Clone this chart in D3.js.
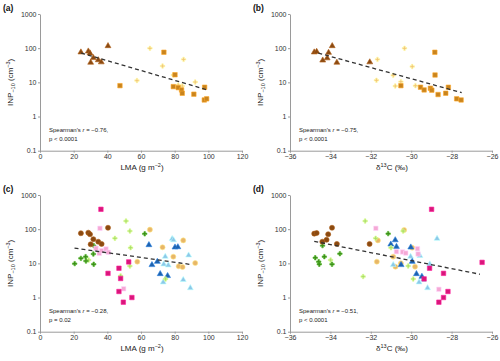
<!DOCTYPE html>
<html><head><meta charset="utf-8">
<script src="https://cdn.jsdelivr.net/npm/d3@7"></script>
<style>body{margin:0;background:#fff} svg{display:block;font-family:"Liberation Sans",Arial,sans-serif}</style>
</head><body><svg id="c" width="500" height="361"></svg>
<script>
// ---------- data ----------
const yTicks = [0.1, 1, 10, 100, 1000];
const yTickLabels = ["0.1", "1", "10", "100", "1000"];
const lmaTicks = [0, 20, 40, 60, 80, 100, 120];
const lmaTickLabels = ["0", "20", "40", "60", "80", "100", "120"];
const d13Ticks = [-36, -34, -32, -30, -28, -26];
const d13TickLabels = ["\u221236", "\u221234", "\u221232", "\u221230", "\u221228", "\u221226"];
const panelLetters = ["(a)", "(b)", "(c)", "(d)"];
const statsR = ["\u22120.76,", "\u22120.75,", "\u22120.28,", "\u22120.51,"];
const statsP = ["p < 0.0001", "p < 0.0001", "p = 0.02", "p < 0.0001"];

// Panel (a): LMA vs INP
const aTriangles = [[24.3,76],[28.7,81],[29.7,71],[31.7,52],[30.1,38],[34.6,45],[36.4,39],[40.4,116]];
const aSquares = [[47.5,8.0],[73.6,76],[80.2,16.7],[79.2,7.5],[82.1,7.0],[84.1,6.0],[84.5,4.8],[91.4,4.5],[97.8,7.2],[97.6,3.05],[99,3.3]];
const aStars = [[65.3,99],[57.6,11.3],[72.8,30],[85.3,47],[79.2,16.4],[92.2,10.2],[84.5,7.8],[82.1,8.3]];
const aTrend = [[24.5,72],[99.5,6]];

// Panel (b): d13C vs INP
const bTriangles = [[-34.80,76],[-34.68,79],[-34.38,44],[-34.16,51],[-34.09,74],[-33.91,116],[-33.68,38],[-32.05,39]];
const bSquares = [[-28.83,76],[-28.82,16.4],[-30.51,8.0],[-29.54,7.2],[-29.36,6.0],[-29.05,6.7],[-28.98,5.9],[-28.67,4.4],[-28.29,4.8],[-28.16,7.2],[-27.75,3.3],[-27.53,3.05]];
const bStars = [[-31.67,47],[-31.72,11.5],[-30.33,99],[-29.95,29],[-30.89,16],[-30.51,10.5],[-30.79,7.8],[-29.79,8]];
const bTrend = [[-34.6,72],[-27.5,5.0]];

// Panel (c): LMA vs INP, by group
const cBrown = [[24.3,76],[28.7,79],[29.7,71],[40.4,110],[31.7,51],[34.6,43],[36.6,37],[30.1,36]];
const cDarkGreen = [[20.6,9.8],[24.3,14],[27.1,15.7],[27.3,11.7],[31.7,18.8],[31.9,9.4],[31.9,33],[62.2,73]];
const cLightGreen = [[51.1,173],[53.4,88],[44.5,54],[53.8,28.7],[28.9,12.5],[47.9,4.3],[53.4,8.3],[74.6,3.5]];
const cMagenta = [[36.2,382],[52.7,11],[40.4,5.1],[46.9,7.2],[47.9,3.6],[46.9,1.5],[54.6,1.0],[49.5,0.73]];
const cPink = [[35.6,106],[33.3,27.6],[35.2,19.7],[36.6,23.4],[39.2,26.3],[40.6,21],[49.7,1.8]];
const cDarkBlue = [[64.7,34.5],[69.7,11.2],[66.5,9.0],[80.2,29.5],[81.9,30],[71.4,4.9],[75.8,4.3]];
const cLightBlue = [[78.5,52],[79.3,48],[74.4,15.7],[88.3,17.2],[73.5,9.4],[76.2,8.8],[73.2,2.8],[85.1,3.3],[89.3,1.9]];
const cTan = [[65.3,97],[72.8,29.5],[85.1,47],[79.2,15.7],[57.8,11.2],[82.4,8.2],[84.7,7.8],[92.2,10.2]];
const cTrend = [[20.5,28],[90,9.2]];

// Panel (d): d13C vs INP, by group
const dBrown = [[-34.80,74],[-34.68,77],[-33.92,110],[-34.11,71],[-34.19,49],[-34.40,43],[-33.68,37],[-32.06,37]];
const dDarkGreen = [[-34.39,33],[-34.75,14.6],[-34.58,11.2],[-34.55,9.4],[-34.30,15.7],[-33.92,9.4],[-33.53,19.2],[-31.14,74]];
const dLightGreen = [[-32.28,173],[-31.76,54],[-32.38,4.1],[-33.99,12.5],[-30.40,88],[-30.15,8.4],[-29.90,3.5],[-31.0,28.7]];
const dMagenta = [[-28.99,382],[-26.49,10.7],[-29.09,7.2],[-28.40,5.1],[-29.36,3.5],[-28.18,1.5],[-28.40,1.0],[-28.63,0.73]];
const dPink = [[-31.75,106],[-29.69,26.9],[-30.73,22],[-30.43,21.5],[-30.27,20],[-29.66,18.8],[-28.63,1.74]];
const dDarkBlue = [[-30.79,48],[-30.73,30.7],[-31.01,36],[-30.02,29.5],[-29.95,11.2],[-30.50,9.0],[-29.74,4.9],[-29.47,4.1]];
const dLightBlue = [[-28.72,53],[-30.03,15.7],[-29.57,16.7],[-30.89,9.0],[-29.08,9.4],[-29.61,2.8],[-29.19,1.9],[-29.40,3.3]];
const dTan = [[-30.35,95],[-30.89,15.7],[-30.78,8.0],[-30.51,10],[-29.81,8.0],[-29.95,28.7],[-31.65,47],[-31.70,11.2]];
const dTrend = [[-34.8,44],[-26.6,4.8]];

// ---------- styles ----------
const col = {
  brown: "#8a4a12", orange: "#c8841f", star: "#f2c47c", tan: "#e8b668",
  dgreen: "#3d8c1c", lgreen: "#a9dc6c", magenta: "#d8177a", pink: "#f5a9d4",
  dblue: "#1e62ae", lblue: "#8ec7e8"
};
const TRI = d3.symbolTriangle, SQ = d3.symbolSquare, CIR = d3.symbolCircle, CR = d3.symbolCross;

const panels = [
  {left:40, right:242, top:14, bottom:150.7, xDomain:[0,120], xTicks:lmaTicks, xLabels:lmaTickLabels, xTitle:"lma",
   series:[{d:aStars,t:CR,c:col.star},{d:aSquares,t:SQ,c:col.orange},{d:aTriangles,t:TRI,c:col.brown}], trend:aTrend},
  {left:290, right:492, top:14, bottom:150.7, xDomain:[-36,-26], xTicks:d13Ticks, xLabels:d13TickLabels, xTitle:"d13",
   series:[{d:bStars,t:CR,c:col.star},{d:bSquares,t:SQ,c:col.orange},{d:bTriangles,t:TRI,c:col.brown}], trend:bTrend},
  {left:40, right:242, top:195, bottom:331.7, xDomain:[0,120], xTicks:lmaTicks, xLabels:lmaTickLabels, xTitle:"lma",
   series:[{d:cTan,t:CIR,c:col.tan},{d:cLightBlue,t:TRI,c:col.lblue},{d:cDarkBlue,t:TRI,c:col.dblue},
           {d:cLightGreen,t:CR,c:col.lgreen},{d:cDarkGreen,t:CR,c:col.dgreen},{d:cPink,t:SQ,c:col.pink},
           {d:cMagenta,t:SQ,c:col.magenta},{d:cBrown,t:CIR,c:col.brown}], trend:cTrend},
  {left:290, right:492, top:195, bottom:331.7, xDomain:[-36,-26], xTicks:d13Ticks, xLabels:d13TickLabels, xTitle:"d13",
   series:[{d:dTan,t:CIR,c:col.tan},{d:dLightBlue,t:TRI,c:col.lblue},{d:dDarkBlue,t:TRI,c:col.dblue},
           {d:dLightGreen,t:CR,c:col.lgreen},{d:dDarkGreen,t:CR,c:col.dgreen},{d:dPink,t:SQ,c:col.pink},
           {d:dMagenta,t:SQ,c:col.magenta},{d:dBrown,t:CIR,c:col.brown}], trend:dTrend}
];
const sizes = new Map([[TRI,15],[SQ,20],[CIR,20],[CR,11]]);

const svg = d3.select("#c");

panels.forEach((p, i) => {
  const x = d3.scaleLinear().domain(p.xDomain).range([p.left, p.right]);
  const y = d3.scaleLog().domain([0.1, 1000]).range([p.bottom, p.top]);
  const g = svg.append("g");

  const xa = g.append("g").attr("transform", `translate(0,${p.bottom})`)
    .call(d3.axisBottom(x).tickValues(p.xTicks).tickFormat((d, k) => p.xLabels[k]).tickSize(2).tickSizeOuter(0).tickPadding(1));
  const ya = g.append("g").attr("transform", `translate(${p.left},0)`)
    .call(d3.axisLeft(y).tickValues(yTicks).tickFormat((d, k) => yTickLabels[k]).tickSize(2).tickSizeOuter(0).tickPadding(1.5));
  [xa, ya].forEach(a => {
    a.select(".domain").attr("stroke", "#9a9a9a").attr("stroke-width", 1);
    a.selectAll(".tick line").attr("stroke", "#9a9a9a");
    a.selectAll(".tick text").attr("font-size", 7).attr("fill", "#333").attr("font-family", "Liberation Sans, Arial, sans-serif");
  });

  // markers
  p.series.forEach(s => {
    g.append("g").selectAll("path").data(s.d).join("path")
      .attr("transform", d => `translate(${x(d[0])},${y(d[1])})`)
      .attr("d", d3.symbol().type(s.t).size(sizes.get(s.t)))
      .attr("fill", s.c)
      .attr("stroke", d3.color(s.c).brighter(0.7))
      .attr("stroke-opacity", 0.6)
      .attr("stroke-width", 1);
  });

  // trend line
  g.append("path").datum(p.trend)
    .attr("d", d3.line().x(d => x(d[0])).y(d => y(d[1])))
    .attr("fill", "none").attr("stroke", "#333").attr("stroke-width", 1.3).attr("stroke-dasharray", "4,3");

  // panel letter
  g.append("text").attr("x", p.left - 37).attr("y", p.top - 3.5).attr("font-size", 8.5).attr("font-weight", "bold")
    .attr("fill", "#111").text(panelLetters[i]);

  // stats
  const st = g.append("text").attr("x", p.left + 9).attr("y", p.bottom - 18.5).attr("font-size", 6).attr("fill", "#222");
  st.append("tspan").text("Spearman's ");
  st.append("tspan").attr("font-style", "italic").text("r");
  st.append("tspan").text(" = " + statsR[i]);
  g.append("text").attr("x", p.left + 9).attr("y", p.bottom - 9.5).attr("font-size", 6).attr("fill", "#222").text(statsP[i]);

  // x title
  const xt = g.append("text").attr("x", (p.left + p.right) / 2 + 1).attr("y", p.bottom + 19).attr("text-anchor", "middle")
    .attr("font-size", 8).attr("fill", "#222");
  if (p.xTitle === "lma") {
    xt.append("tspan").text("LMA (g m");
    xt.append("tspan").attr("dy", -3).attr("font-size", 5.5).text("\u22122");
    xt.append("tspan").attr("dy", 3).text(")");
  } else {
    xt.append("tspan").text("\u03b4");
    xt.append("tspan").attr("dy", -3).attr("font-size", 5.5).text("13");
    xt.append("tspan").attr("dy", 3).text("C (\u2030)");
  }

  // y title
  const yt = g.append("text").attr("transform", `translate(${p.left - 27},${(p.top + p.bottom) / 2}) rotate(-90)`)
    .attr("text-anchor", "middle").attr("font-size", 8).attr("fill", "#222");
  yt.append("tspan").text("INP");
  yt.append("tspan").attr("dy", 2).attr("font-size", 5.5).text("\u221210");
  yt.append("tspan").attr("dy", -2).text(" (cm");
  yt.append("tspan").attr("dy", -3).attr("font-size", 5.5).text("\u22123");
  yt.append("tspan").attr("dy", 3).text(")");
});
</script>
</body></html>
